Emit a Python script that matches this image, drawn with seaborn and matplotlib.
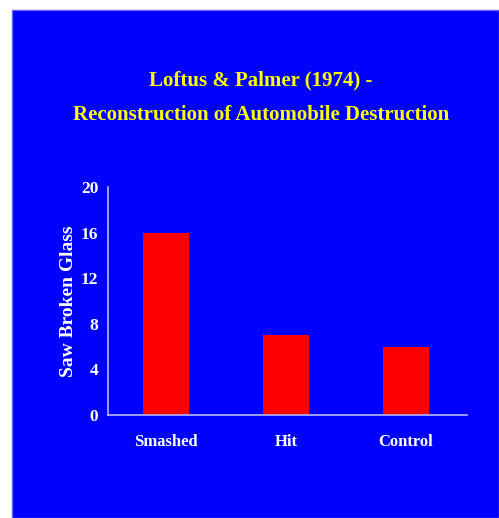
import matplotlib
matplotlib.use("Agg")
import matplotlib.pyplot as plt
import seaborn as sns
import pandas as pd
from matplotlib.patches import Rectangle

categories = ["Smashed", "Hit", "Control"]
values = [16, 7, 6]
yticks = [0, 4, 8, 12, 16, 20]
title_lines = ["Loftus & Palmer (1974) -", "Reconstruction of Automobile Destruction"]
ylabel = "Saw Broken Glass"

BLUE = "#0000ff"
AXIS = "#b8b8ff"

sns.set_style("white")
plt.rcParams["font.family"] = ["Liberation Serif", "DejaVu Serif"]

fig = plt.figure(figsize=(4.99, 5.18), dpi=100)
fig.patch.set_facecolor("white")
bg = Rectangle((12 / 499, 0), 1 - 12 / 499, 1 - 10 / 518,
               transform=fig.transFigure, facecolor=BLUE,
               edgecolor="#6060ff", linewidth=1, zorder=-10)
fig.add_artist(bg)

W, H = 499, 518
left, right, top, bottom = 108, 467, 187, 415
ax = fig.add_axes([left / W, 1 - bottom / H, (right - left) / W, (bottom - top) / H])
ax.set_zorder(5)
ax.set_facecolor("none")
ax.patch.set_alpha(0)

df = pd.DataFrame({"cat": categories, "val": values})
sns.barplot(data=df, x="cat", y="val", color="#ff0000", saturation=1,
            width=0.39, ax=ax, edgecolor="none")

ax.set_xlim(-0.483, 2.508)
ax.set_ylim(0, 20)
ax.set_yticks(yticks)
ax.set_yticklabels([str(t) for t in yticks])
ax.tick_params(axis="both", length=0, colors="white")
ax.tick_params(axis="y", pad=7, labelsize=12.5)
ax.tick_params(axis="x", pad=14, labelsize=12)
for lab in ax.get_xticklabels() + ax.get_yticklabels():
    lab.set_fontweight("bold")
    lab.set_color("white")
ax.set_xlabel("")
ax.set_ylabel(ylabel, color="white", fontsize=14, fontweight="bold", labelpad=3)
for s in ["top", "right"]:
    ax.spines[s].set_visible(False)
for s in ["left", "bottom"]:
    ax.spines[s].set_color(AXIS)
    ax.spines[s].set_linewidth(1.2)

fig.text(261 / W, 1 - 80 / H, title_lines[0], ha="center", va="center",
         color="#ffff00", fontsize=15, fontweight="bold")
fig.text(261 / W, 1 - 115 / H, title_lines[1], ha="center", va="center",
         color="#ffff00", fontsize=15, fontweight="bold")

fig.savefig("out.png", dpi=100, facecolor=fig.get_facecolor())
